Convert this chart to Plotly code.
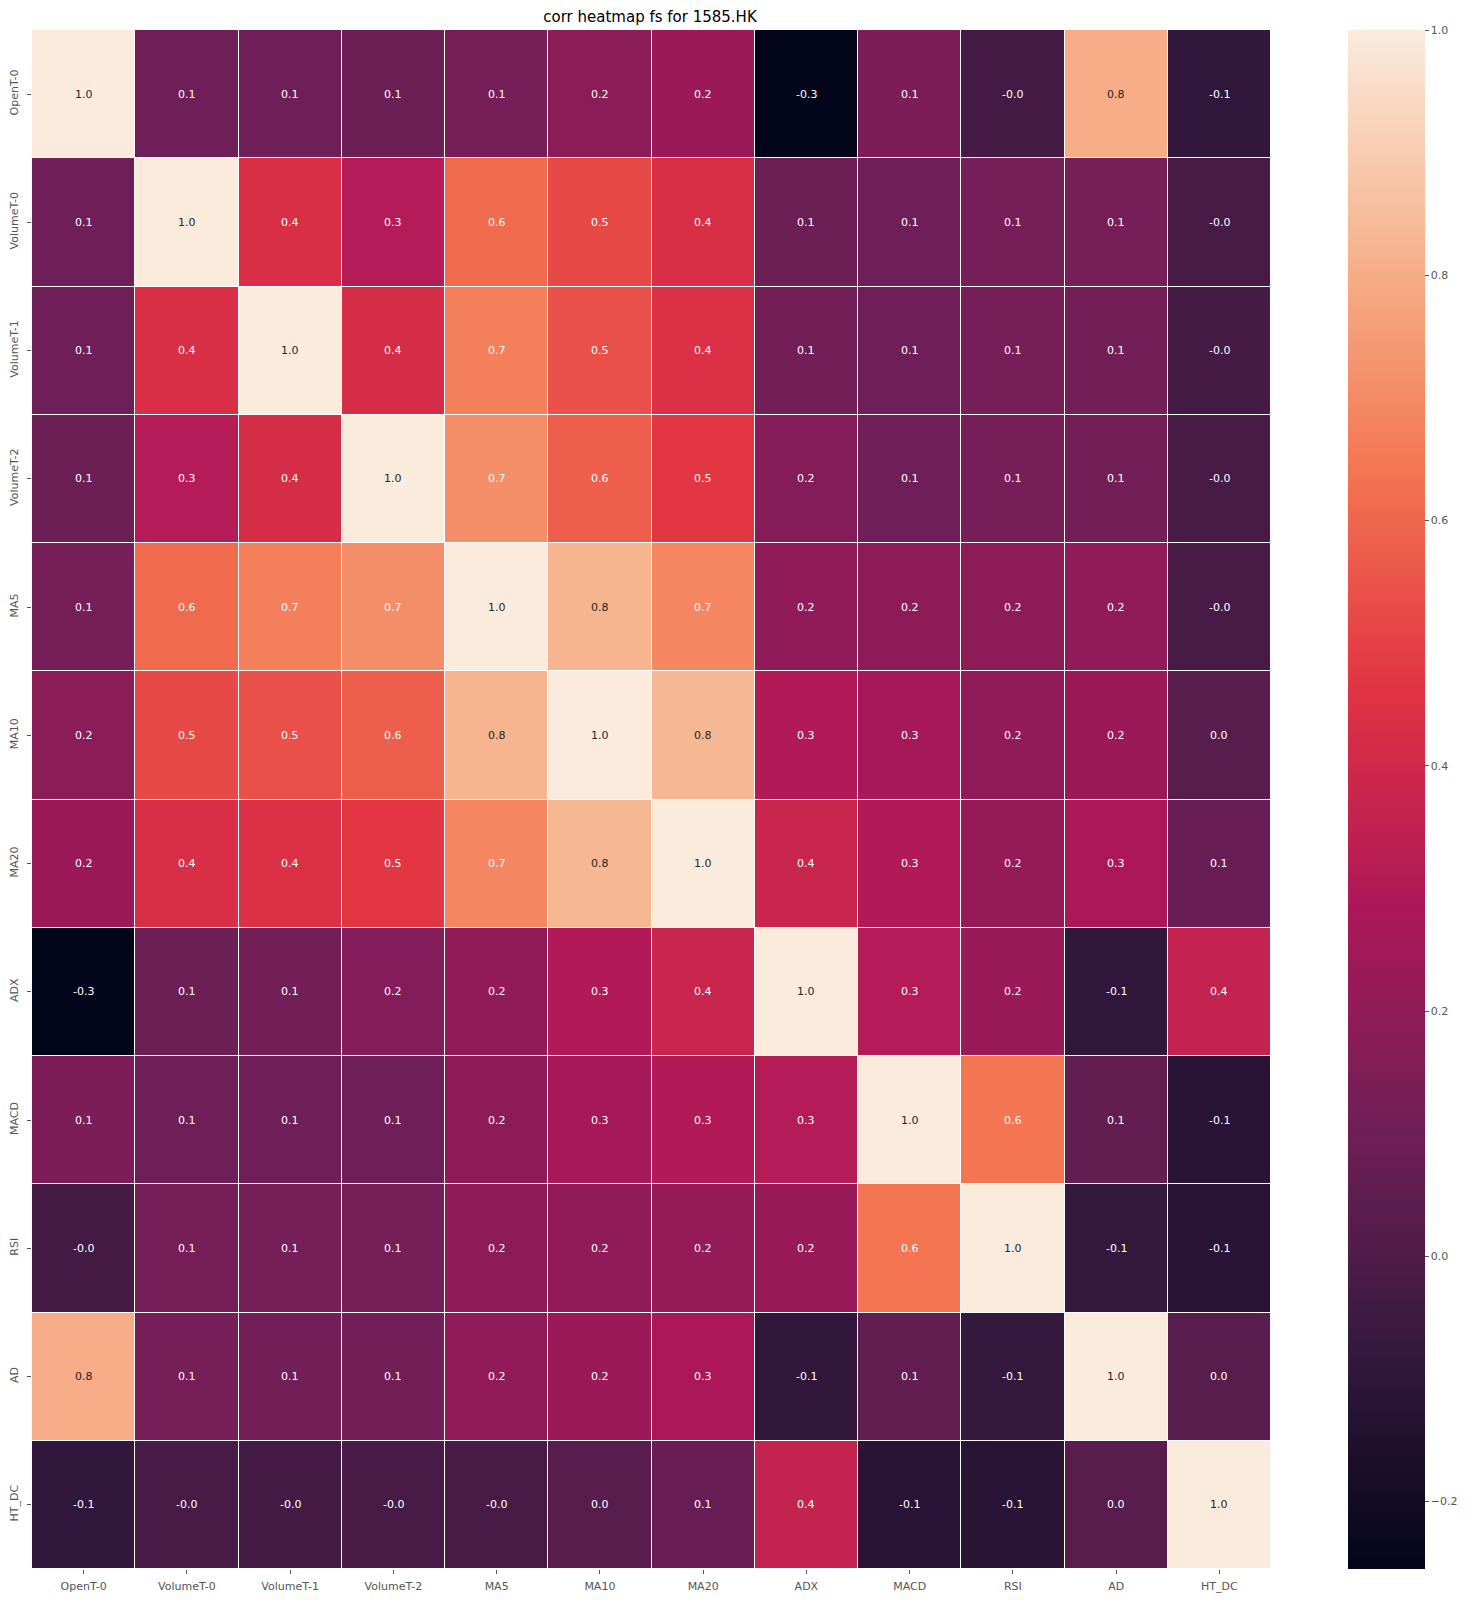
import plotly.graph_objects as go

labels = ["OpenT-0", "VolumeT-0", "VolumeT-1", "VolumeT-2", "MA5", "MA10",
          "MA20", "ADX", "MACD", "RSI", "AD", "HT_DC"]

# correlation rows (symmetric matrix), estimated from the reference colours
row_opent0  = [1.00, 0.10, 0.10, 0.09, 0.12, 0.18, 0.23, -0.255, 0.14, -0.03, 0.80, -0.09]
row_volume0 = [0.10, 1.00, 0.43, 0.31, 0.61, 0.52, 0.43, 0.09, 0.10, 0.12, 0.12, -0.02]
row_volume1 = [0.10, 0.43, 1.00, 0.42, 0.67, 0.54, 0.44, 0.11, 0.10, 0.12, 0.11, -0.03]
row_volume2 = [0.09, 0.31, 0.42, 1.00, 0.71, 0.58, 0.47, 0.16, 0.10, 0.12, 0.11, -0.02]
row_ma5     = [0.12, 0.61, 0.67, 0.71, 1.00, 0.82, 0.69, 0.20, 0.19, 0.19, 0.20, -0.02]
row_ma10    = [0.18, 0.52, 0.54, 0.58, 0.82, 1.00, 0.83, 0.30, 0.26, 0.20, 0.23, 0.03]
row_ma20    = [0.23, 0.43, 0.44, 0.47, 0.69, 0.83, 1.00, 0.38, 0.30, 0.21, 0.28, 0.08]
row_adx     = [-0.255, 0.09, 0.11, 0.16, 0.20, 0.30, 0.38, 1.00, 0.31, 0.22, -0.09, 0.36]
row_macd    = [0.14, 0.10, 0.10, 0.10, 0.19, 0.26, 0.30, 0.31, 1.00, 0.64, 0.06, -0.12]
row_rsi     = [-0.03, 0.12, 0.12, 0.12, 0.19, 0.20, 0.21, 0.22, 0.64, 1.00, -0.08, -0.12]
row_ad      = [0.80, 0.12, 0.11, 0.11, 0.20, 0.23, 0.28, -0.09, 0.06, -0.08, 1.00, 0.03]
row_htdc    = [-0.09, -0.02, -0.03, -0.02, -0.02, 0.03, 0.08, 0.36, -0.12, -0.12, 0.03, 1.00]

rows = [row_opent0, row_volume0, row_volume1, row_volume2, row_ma5, row_ma10,
        row_ma20, row_adx, row_macd, row_rsi, row_ad, row_htdc]

cbar_ticks = [-0.2, 0.0, 0.2, 0.4, 0.6, 0.8, 1.0]

# rocket colormap anchors
rocket = [
    (0.0, (3, 5, 26)),
    (1/7, (53, 25, 62)),
    (2/7, (112, 31, 87)),
    (3/7, (173, 23, 89)),
    (4/7, (225, 51, 66)),
    (5/7, (243, 118, 81)),
    (6/7, (246, 180, 143)),
    (1.0, (250, 235, 221)),
]
colorscale = [[t, "rgb(%d,%d,%d)" % c] for t, c in rocket]

zmin = min(min(r) for r in rows)
zmax = max(max(r) for r in rows)


def color_at(v):
    t = (v - zmin) / (zmax - zmin)
    t = max(0.0, min(1.0, t))
    for (t0, c0), (t1, c1) in zip(rocket[:-1], rocket[1:]):
        if t <= t1:
            f = (t - t0) / (t1 - t0) if t1 > t0 else 0
            return tuple(c0[i] + f * (c1[i] - c0[i]) for i in range(3))
    return rocket[-1][1]


def luminance(c):
    out = []
    for x in c:
        x = x / 255.0
        out.append(x / 12.92 if x <= 0.03928 else ((x + 0.055) / 1.055) ** 2.4)
    return 0.2126 * out[0] + 0.7152 * out[1] + 0.0722 * out[2]


# the page body has an 8px margin, so the figure is sized to fill the rest
W, H = 1463, 1592

fig = go.Figure()
fig.add_trace(go.Heatmap(
    z=rows, x=labels, y=labels,
    colorscale=colorscale, zmin=zmin, zmax=zmax,
    xgap=1, ygap=1,
    hoverinfo="skip",
    colorbar=dict(
        x=1.0622, xanchor="left", y=0.5, yanchor="middle",
        len=1.0, lenmode="fraction", thickness=77, thicknessmode="pixels",
        outlinewidth=0, tickvals=cbar_ticks, tickformat=".1f",
        ticks="outside", ticklen=4, tickwidth=1, tickcolor="#555555",
        tickfont=dict(family="DejaVu Sans", size=11, color="#555555"),
        xpad=0, ypad=0,
    ),
))

annotations = []
for i, r in enumerate(rows):
    for j, v in enumerate(r):
        col = "#262626" if luminance(color_at(v)) > 0.408 else "#ffffff"
        annotations.append(dict(
            x=labels[j], y=labels[i], text=f"{v:.1f}", showarrow=False,
            font=dict(family="DejaVu Sans", size=11, color=col),
        ))

fig.update_layout(
    width=W, height=H,
    margin=dict(l=24, r=200, t=22, b=31, autoexpand=False),
    plot_bgcolor="white", paper_bgcolor="white",
    title=dict(text="corr heatmap fs for 1585.HK", x=642 / W, xanchor="center",
               y=1 - 8.5 / H, yanchor="middle",
               font=dict(family="DejaVu Sans", size=15, color="black")),
    annotations=annotations,
    xaxis=dict(showgrid=False, zeroline=False, ticks="outside", ticklen=4,
               tickcolor="#555555", tickangle=0, automargin=False,
               ticklabelstandoff=3,
               tickfont=dict(family="DejaVu Sans", size=11, color="#555555")),
    yaxis=dict(showgrid=False, zeroline=False, ticks="outside", ticklen=4,
               tickcolor="#555555", tickangle=-90, autorange="reversed",
               automargin=False, ticklabelstandoff=5,
               tickfont=dict(family="DejaVu Sans", size=11, color="#555555")),
)

fig.write_html("out.html")
